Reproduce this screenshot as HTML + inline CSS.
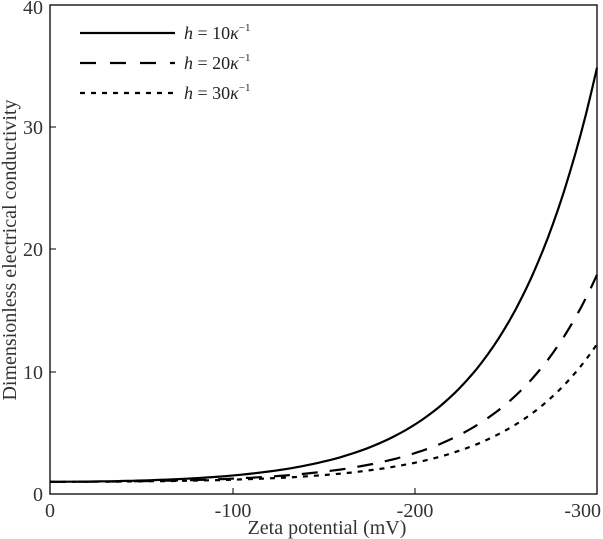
<!DOCTYPE html>
<html><head><meta charset="utf-8"><style>
html,body{margin:0;padding:0;background:#fff;}
svg{display:block;font-family:"Liberation Serif",serif;}
</style></head><body>
<svg id="s" width="603" height="539" viewBox="0 0 603 539" xmlns="http://www.w3.org/2000/svg">
<rect x="50" y="5" width="547" height="489" fill="none" stroke="#000" stroke-width="1.3"/>
<g stroke="#000" stroke-width="1">
<line x1="233" y1="494" x2="233" y2="488"/><line x1="415" y1="494" x2="415" y2="488"/>
<line x1="50" y1="372" x2="56" y2="372"/><line x1="50" y1="249" x2="56" y2="249"/><line x1="50" y1="127" x2="56" y2="127"/>
</g>
<g font-size="20" fill="#333">
<text x="50" y="517" text-anchor="middle">0</text>
<text x="233" y="517" text-anchor="middle">-100</text>
<text x="415" y="517" text-anchor="middle">-200</text>
<text x="601" y="517" text-anchor="end">-300</text>
<text x="43" y="501" text-anchor="end">0</text>
<text x="43" y="379" text-anchor="end">10</text>
<text x="43" y="256" text-anchor="end">20</text>
<text x="43" y="134" text-anchor="end">30</text>
<text x="43" y="14" text-anchor="end">40</text>
<text x="327" y="534" text-anchor="middle">Zeta potential (mV)</text>
<text transform="translate(16,250) rotate(-90)" text-anchor="middle">Dimensionless electrical conductivity</text>
</g>
<g stroke="#000" stroke-width="2.2" fill="none">
<line x1="80" y1="33" x2="175" y2="33"/>
<line x1="80" y1="63" x2="175" y2="63" stroke-dasharray="16,14"/>
<line x1="80" y1="93" x2="175" y2="93" stroke-dasharray="5,6"/>
<path id="p1"/><path id="p2" stroke-dasharray="16,12"/><path id="p3" stroke-dasharray="5,6"/>
</g>
<g font-size="18" fill="#222">
<text x="184" y="39"><tspan font-style="italic">h</tspan> = 10<tspan font-style="italic">κ</tspan><tspan font-size="11" dy="-8">−1</tspan></text>
<text x="184" y="69"><tspan font-style="italic">h</tspan> = 20<tspan font-style="italic">κ</tspan><tspan font-size="11" dy="-8">−1</tspan></text>
<text x="184" y="99"><tspan font-style="italic">h</tspan> = 30<tspan font-style="italic">κ</tspan><tspan font-size="11" dy="-8">−1</tspan></text>
</g>
</svg>
<script>
function mk(a){var d="";for(var z=0;z<=300;z+=3){var v=1+a*(Math.cosh(z/51.4)-1);var x=50+z*547/300,y=494-v*12.225;d+=(z?"L":"M")+x.toFixed(1)+","+y.toFixed(1);}return d;}
document.getElementById("p1").setAttribute("d",mk(34/171));
document.getElementById("p2").setAttribute("d",mk(17/171));
document.getElementById("p3").setAttribute("d",mk(11.3/171));
</script>
</body></html>
